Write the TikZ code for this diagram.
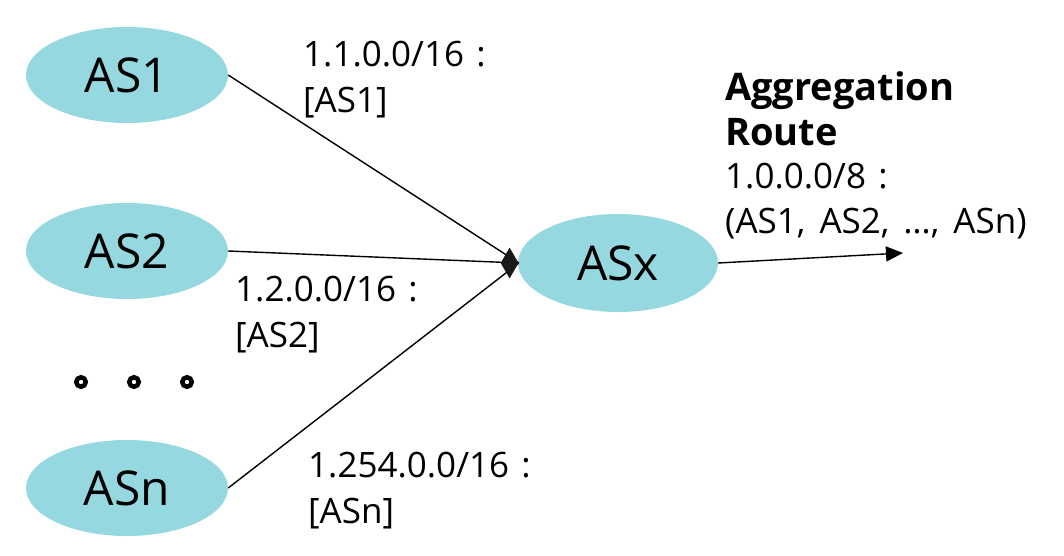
\documentclass[tikz,border=0pt]{standalone}
\usepackage{fontspec}
\setmainfont{Open Sans}
\usetikzlibrary{shapes.geometric,arrows.meta}
\definecolor{asfill}{RGB}{149,216,224}
\begin{document}
\begin{tikzpicture}[x=1pt,y=-1pt,
  asnode/.style={ellipse,fill=asfill,draw=none,inner sep=0pt,minimum width=202pt,minimum height=96pt,font=\fontsize{48}{56}\selectfont},
  lbl/.style={anchor=base west,inner sep=0pt,align=left,font=\fontsize{35}{46}\selectfont},
  conn/.style={line width=1.4pt},
  tipmark/.style={diamond,fill=black!90,draw=none,inner sep=0pt,minimum width=18pt,minimum height=31pt,anchor=east},
  outarrow/.style={line width=1.4pt,-{Triangle[length=17pt,width=15pt]}},
  dotc/.style={circle,draw=black,line width=4.5pt,minimum size=9.5pt,inner sep=0pt}]
\useasboundingbox (0,0) rectangle (1064,556);
\node[asnode] (as1) at (127,75) {AS1};
\node[asnode] (as2) at (127,251) {AS2};
\node[asnode] (asn) at (127,488) {ASn};
\node[asnode,minimum width=200pt,minimum height=98pt] (asx) at (618,263) {ASx};
\node[dotc] (d1) at (81,382) {};
\node[dotc] (d2) at (134,382) {};
\node[dotc] (d3) at (187,382) {};
\coordinate (tippt) at ([xshift=1pt]asx.west);
\coordinate (out) at (903,253);
\draw[conn] (as1.east) -- (tippt);
\draw[conn] (as2.east) -- (tippt);
\draw[conn] (asn.east) -- (tippt);
\node[tipmark] (tip) at (tippt) {};
\draw[outarrow] (asx.east) -- (out);
\node[lbl] (l1) at (303,113) {1.1.0.0/16\hspace{0.35em}:\\{}[AS1]};
\node[lbl] (l2) at (235,347) {1.2.0.0/16\hspace{0.35em}:\\{}[AS2]};
\node[lbl] (l3) at (308,523) {1.254.0.0/16\hspace{0.35em}:\\{}[ASn]};
\node[lbl,font=\fontsize{35}{44}\selectfont] (agg) at (725,233) {{\fontsize{38}{44}\selectfont\bfseries Aggregation}\\{\fontsize{38}{44}\selectfont\bfseries Route}\\1.0.0.0/8\hspace{0.35em}:\\(AS1,\hspace{0.4em}AS2,\hspace{0.4em}…,\hspace{0.4em}ASn)};
\end{tikzpicture}
\end{document}
